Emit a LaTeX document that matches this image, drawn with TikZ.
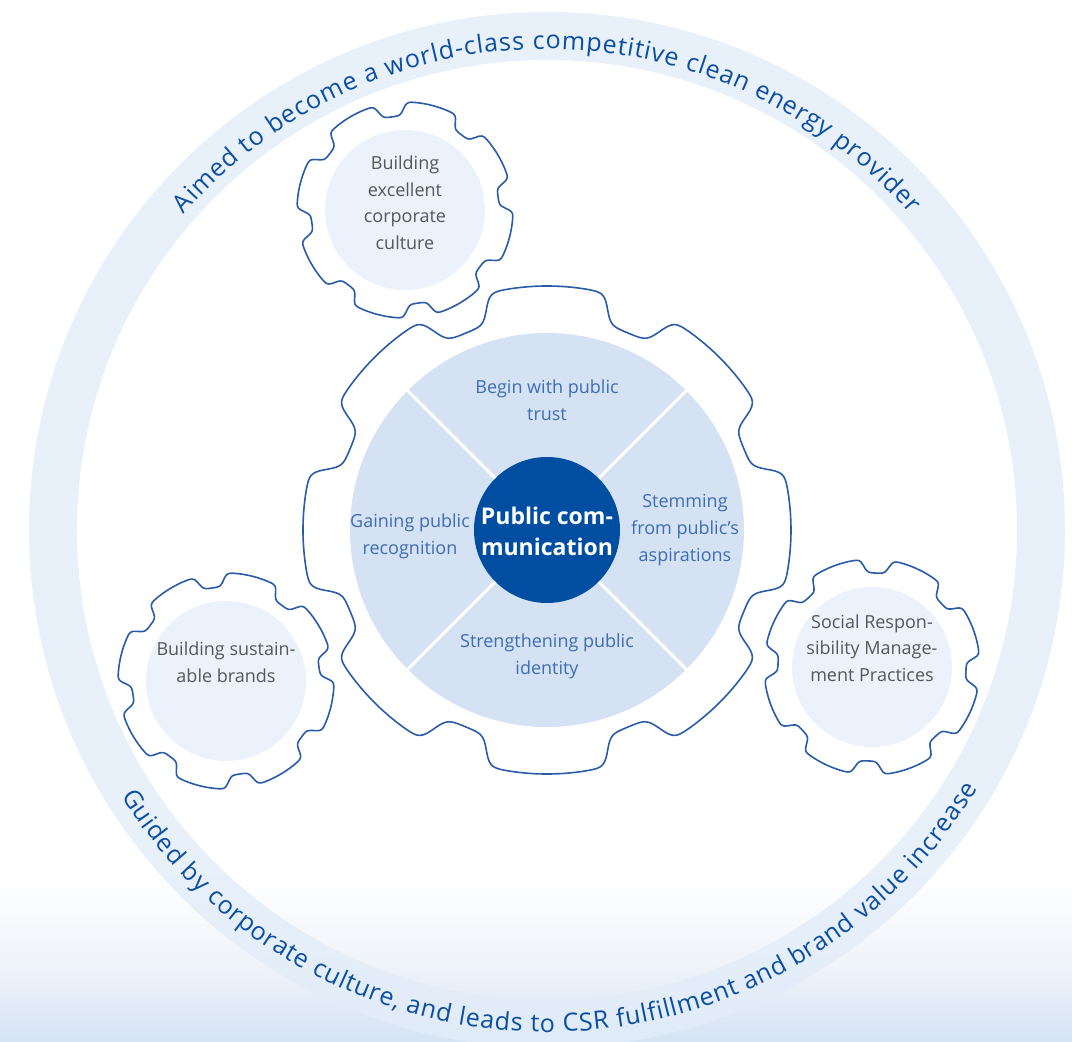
\documentclass[tikz,border=0pt]{standalone}
\usepackage{fontspec}
\setmainfont{Open Sans}
\usetikzlibrary{decorations.text}

\definecolor{ringfill}{HTML}{E2EDF9}
\definecolor{ringblue}{HTML}{0B4EA2}
\definecolor{gearline}{HTML}{2A5BA8}
\definecolor{diskfill}{HTML}{D4E2F3}
\definecolor{hubfill}{HTML}{004EA2}
\definecolor{padfill}{HTML}{EBF2FB}
\definecolor{quadtext}{HTML}{3D6DB5}
\definecolor{graytext}{HTML}{575757}
\definecolor{skymid}{HTML}{EEF3FA}
\definecolor{skylow}{HTML}{D5E3F4}

\newcommand{\ringfont}{\fontsize{25}{30}\selectfont}

\begin{document}
\begin{tikzpicture}[x=1pt,y=1pt,
  declare function={gearr(\t,\ro,\rv,\ph)=\rv+(\ro-\rv)*(tanh(4.5*(cos(8*(\t-\ph))+0.55))+tanh(2.025))/(1+tanh(2.025));},
  gearoutline/.style={draw=gearline, line width=1.6pt, line join=round},
  pad/.style={circle, fill=padfill, minimum size=160pt, inner sep=0pt},
  padlabel/.style={text=graytext, align=center, font=\fontsize{18}{26.5}\selectfont},
  quadlabel/.style={text=quadtext, align=center, font=\fontsize{18}{27}\selectfont},
  divider/.style={draw=white, line width=3pt},
]
\useasboundingbox (-547,-512) rectangle (525,530);

% sky haze along the bottom edge
\shade[top color=white, bottom color=skymid] (-547,-345) rectangle (525,-440);
\shade[top color=skymid, bottom color=skylow] (-547,-440) rectangle (525,-512);

% outer band
\fill[ringfill, opacity=0.8, even odd rule] (0,0) circle[radius=518pt] circle[radius=470pt];

% band captions
\path[decorate, decoration={text along path, text align={fit to path}, text color=ringblue,
  text={|\ringfont|Aimed to become a world-class competitive clean energy provider}}]
  (139:481) arc[start angle=139, end angle=41, radius=481pt];
\path[decorate, decoration={text along path, text align={fit to path}, text color=ringblue,
  text={|\ringfont|Guided by corporate culture, and leads to CSR fulfillment and brand value increase}}]
  (212:502) arc[start angle=212, end angle=329, radius=502pt];

% central gear
\draw[gearoutline] plot[variable=\t, domain=0:360, samples=721] ({\t}:{gearr(\t,244,213,0)}) -- cycle;
\node[circle, fill=diskfill, minimum size=394pt, inner sep=0pt] (disk) at (0,0) {};
\node[circle, fill=hubfill, minimum size=146pt, inner sep=0pt] (hub) at (0,0) {};
\foreach \a in {45,135,225,315}
  \draw[divider] (hub.\a) -- (disk.\a);
\node[text=white, align=center, font=\fontsize{23}{31}\selectfont\bfseries] (hubtext) at (0,-1) {Public com-\\munication};

\node[quadlabel] (qtop) at (0,130) {Begin with public\\trust};
\node[quadlabel] (qright) at (138,0) {Stemming\\from public's\\aspirations};
\node[quadlabel] (qbottom) at (0,-126) {Strengthening public\\identity};
\node[quadlabel] (qleft) at (-137,-6.5) {Gaining public\\recognition};

% satellite gears
\draw[gearoutline, shift={(-142,320)}] plot[variable=\t, domain=0:360, samples=361] ({\t}:{gearr(\t,108,94,30.5)}) -- cycle;
\node[pad] (padculture) at (-142,320) {};
\node[padlabel] (culture) at (-142,327) {Building\\excellent\\corporate\\culture};

\draw[gearoutline, shift={(-321,-151)}] plot[variable=\t, domain=0:360, samples=361] ({\t}:{gearr(\t,108,94,31)}) -- cycle;
\node[pad] (padbrands) at (-321,-151) {};
\node[padlabel] (brands) at (-321,-132) {Building sustain-\\able brands};

\draw[gearoutline, shift={(325,-137)}] plot[variable=\t, domain=0:360, samples=361] ({\t}:{gearr(\t,108,94,20)}) -- cycle;
\node[pad] (padcsr) at (325,-137) {};
\node[padlabel] (csr) at (325,-118) {Social Respon-\\sibility Manage-\\ment Practices};
\end{tikzpicture}
\end{document}
